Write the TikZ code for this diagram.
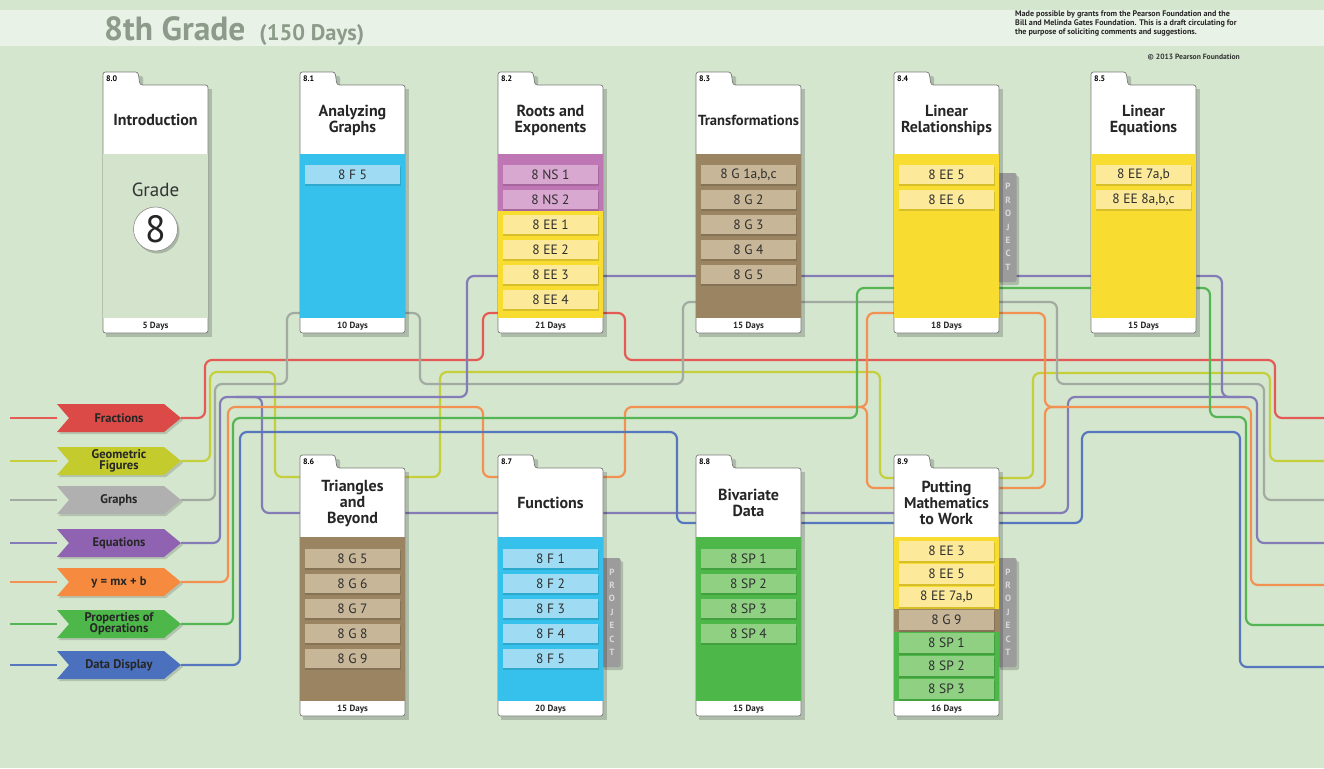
\documentclass[tikz,border=0pt]{standalone}
\usepackage{fontspec}
\setmainfont{PT Sans}
\definecolor{bg}{HTML}{D4E6CE}
\definecolor{band}{HTML}{E9F2E6}
\definecolor{titlegray}{HTML}{8C9B8A}
\definecolor{edge}{HTML}{7A7A7A}
\definecolor{introbody}{HTML}{D3E3CC}
\definecolor{bluebody}{HTML}{36C1EC}
\definecolor{bluebar}{HTML}{9FDCF4}
\definecolor{purpbody}{HTML}{BE77B4}
\definecolor{purpbar}{HTML}{D9A8D1}
\definecolor{yelbody}{HTML}{F8DC30}
\definecolor{yelbar}{HTML}{FCEA9A}
\definecolor{brnbody}{HTML}{9B8462}
\definecolor{brnbar}{HTML}{C7B698}
\definecolor{grnbody}{HTML}{4DB849}
\definecolor{grnbar}{HTML}{8FD083}
\definecolor{projgray}{HTML}{9C9C9C}
\definecolor{projtext}{HTML}{DADADA}
\definecolor{itemtext}{HTML}{2E2E2E}
\definecolor{aRed}{HTML}{DB4A46}
\definecolor{aYg}{HTML}{C4CB2D}
\definecolor{aGray}{HTML}{B0B0B0}
\definecolor{aPurp}{HTML}{9063B2}
\definecolor{aOr}{HTML}{F68B3F}
\definecolor{aGrn}{HTML}{4DB74A}
\definecolor{aBlue}{HTML}{4B71BE}
\definecolor{lRed}{HTML}{E45A55}
\definecolor{lYg}{HTML}{C5CF3C}
\definecolor{lGray}{HTML}{A2AAA2}
\definecolor{lPurp}{HTML}{837CB6}
\definecolor{lOr}{HTML}{F29152}
\definecolor{lGrn}{HTML}{55B453}
\definecolor{lBlue}{HTML}{5676BD}
\newcommand\numfont{\fontsize{8}{8}\selectfont\bfseries}
\newcommand\titlefont{\fontsize{16}{16}\selectfont\bfseries}
\newcommand\dayfont{\fontsize{9}{10}\selectfont\bfseries}
\newcommand\itemfont{\fontsize{13.5}{13.5}\selectfont}
\newcommand\signfont{\fontsize{12.5}{11.5}\selectfont\bfseries}
\tikzset{
  ln/.style={line width=2.2pt, rounded corners=7pt},
}
% card: id, x, T, number, title, days, body colour
\newcommand\mcard[7]{%
  \fill[black,opacity=.18] (#2+3,#3+17) rectangle (#2+109,#3+265);
  \fill[black,opacity=.18,rounded corners=2pt] (#2+3,#3+4) rectangle (#2+40,#3+20);
  \filldraw[fill=white,draw=edge,line width=.7pt,rounded corners=2.5pt]
    (#2,#3+14) -- (#2,#3) -- (#2+35,#3) -- (#2+37,#3+13) -- (#2+105,#3+13)
    -- (#2+105,#3+261) -- (#2,#3+261) -- cycle;
  \fill[#7] (#2+.4,#3+82) rectangle (#2+104.6,#3+246);
  \node[font=\numfont,anchor=west,inner sep=0] (#1n) at (#2+3,#3+7) {#4};
  \node[font=\titlefont,align=center,text=black!85] (#1) at (#2+52.5,#3+48) {#5};
  \node[font=\dayfont,text=black!85] (#1d) at (#2+52.5,#3+254) {#6};
}
% item bar: name, card x, y top, label, fill, height
\newcommand\itm[6]{%
  \fill[black,opacity=.13] (#2+5,#3+1.5) rectangle (#2+101,#3+#6+1.5);
  \fill[#5] (#2+5,#3) rectangle (#2+100,#3+#6);
  \node[font=\itemfont,text=itemtext,inner sep=0] (#1) at (#2+52.5,#3+#6/2) {#4};
}
% project tab: name, x (card right), y top
\newcommand\proj[3]{%
  \fill[black,opacity=.18,rounded corners=2pt] (#2+1,#3+3) rectangle (#2+20,#3+112);
  \fill[projgray,rounded corners=2pt] (#2-4,#3) rectangle (#2+17.5,#3+109);
  \node[font=\fontsize{9}{13.4}\selectfont\bfseries,text=projtext,align=center,inner sep=0]
    (#1) at (#2+9,#3+54) {P\\R\\O\\J\\E\\C\\T};
}
% signpost: name, y, colour, text
\newcommand\sign[4]{%
  \fill[black,opacity=.15] (59,#2-12) -- (166,#2-12) -- (183,#2+2) -- (166,#2+16) -- (59,#2+16) -- (71,#2+2) -- cycle;
  \fill[#3] (57,#2-14) -- (164,#2-14) -- (181,#2) -- (164,#2+14) -- (57,#2+14) -- (69,#2) -- cycle;
  \node[font=\signfont,align=center,minimum width=124,inner sep=0,text=black!85] (#1) at (119,#2) {#4};
}
\begin{document}
\begin{tikzpicture}[x=1pt,y=-1pt]
\useasboundingbox (0,0) rectangle (1324,768);
\fill[bg] (0,0) rectangle (1324,768);
\fill[band] (0,10) rectangle (1324,46);

% title and notes
\node[anchor=base west,inner sep=0,text=titlegray] (title) at (104,41)
  {{\fontsize{33.5}{33}\selectfont\bfseries 8th Grade}\hspace{14pt}{\fontsize{22.5}{22}\selectfont\bfseries (150 Days)}};
\node[anchor=north west,inner sep=0,align=left,font=\fontsize{8.1}{9}\selectfont\bfseries,text=black!85] (note) at (1015,11)
  {Made possible by grants from the Pearson Foundation and the\\Bill and Melinda Gates Foundation. This is a draft circulating for\\the purpose of soliciting comments and suggestions.};
\node[anchor=east,inner sep=0,font=\fontsize{7.6}{8}\selectfont\bfseries,text=black!80] (copy) at (1240,57) {\textcopyright\ 2013 Pearson Foundation};

% end points of the connectors
\foreach \n/\y in {fr/418,ge/461,gr/500,eq/543,mx/582,po/624,dd/665}{
  \coordinate (\n In) at (10,\y);
}
\coordinate (frOut) at (1324,418);
\coordinate (geOut) at (1324,461);
\coordinate (grOut) at (1324,500);
\coordinate (eqOut) at (1324,543);
\coordinate (mxOut) at (1324,585);
\coordinate (poOut) at (1324,625);
\coordinate (ddOut) at (1324,667);

\draw[ln,lRed] (frIn) -- (57,418);
\draw[ln,lYg] (geIn) -- (57,461);
\draw[ln,lGray] (grIn) -- (57,500);
\draw[ln,lPurp] (eqIn) -- (57,543);
\draw[ln,lOr] (mxIn) -- (57,582);
\draw[ln,lGrn] (poIn) -- (57,624);
\draw[ln,lBlue] (ddIn) -- (57,665);

\sign{fr}{418}{aRed}{Fractions}
\sign{ge}{461}{aYg}{Geometric\\Figures}
\sign{gr}{500}{aGray}{Graphs}
\sign{eq}{543}{aPurp}{Equations}
\sign{mx}{582}{aOr}{y = mx + b}
\sign{po}{624}{aGrn}{Properties of\\Operations}
\sign{dd}{665}{aBlue}{Data Display}

% connectors
\draw[ln,lRed] (fr.east) -- (205,418) -- (205,360) -- (483,360) -- (483,313) -- (625,313) -- (625,360) -- (1275,360) -- (1275,418) -- (frOut);
\draw[ln,lYg] (ge.east) -- (210,461) -- (210,372) -- (275,372) -- (275,477) -- (440,477) -- (440,372) -- (880,372) -- (880,478) -- (1033,478) -- (1033,373) -- (1270,373) -- (1270,461) -- (geOut);
\draw[ln,lGray] (gr.east) -- (215,500) -- (215,384) -- (287,384) -- (287,313) -- (420,313) -- (420,384) -- (683,384) -- (683,302) -- (1057,302) -- (1057,384) -- (1264,384) -- (1264,500) -- (grOut);
\draw[ln,lPurp] (eq.east) -- (220,543) -- (220,397) -- (467,397) -- (467,276) -- (1222,276) -- (1222,397) -- (1257,397) -- (1257,543) -- (eqOut);
\draw[ln,lPurp] (236,397) -- (262,397) -- (262,513) -- (1068,513) -- (1068,397) -- (1240,397);
\draw[ln,lOr] (mx.east) -- (228,582) -- (228,407) -- (483,407) -- (483,477) -- (625,477) -- (625,407) -- (867,407) -- (867,313) -- (1045,313) -- (1045,407) -- (1251,407) -- (1251,585) -- (mxOut);
\draw[ln,lOr] (848,407) -- (867,407) -- (867,488) -- (1045,488) -- (1045,407) -- (1064,407);
\draw[ln,lGrn] (po.east) -- (233,624) -- (233,418) -- (857,418) -- (857,288) -- (1210,288) -- (1210,417) -- (1246,417) -- (1246,625) -- (poOut);
\draw[ln,lBlue] (dd.east) -- (240,665) -- (240,432) -- (677,432) -- (677,523) -- (1082,523) -- (1082,432) -- (1240,432) -- (1240,667) -- (ddOut);

% project tabs
\proj{p84}{999}{173}
\proj{p87}{603}{558}
\proj{p89}{999}{558}

% top row cards
\mcard{c80}{103}{72}{8.0}{Introduction}{5 Days}{introbody}
\mcard{c81}{300}{72}{8.1}{Analyzing\\Graphs}{10 Days}{bluebody}
\mcard{c82}{498}{72}{8.2}{Roots and\\Exponents}{21 Days}{yelbody}
\mcard{c83}{696}{72}{8.3}{{\fontsize{14.6}{15}\selectfont Transformations}}{15 Days}{brnbody}
\mcard{c84}{894}{72}{8.4}{Linear\\{\fontsize{15.8}{16}\selectfont Relationships}}{18 Days}{yelbody}
\mcard{c85}{1091}{72}{8.5}{Linear\\Equations}{15 Days}{yelbody}
% bottom row cards
\mcard{c86}{300}{455}{8.6}{Triangles\\and\\Beyond}{15 Days}{brnbody}
\mcard{c87}{498}{455}{8.7}{Functions}{20 Days}{bluebody}
\mcard{c88}{696}{455}{8.8}{Bivariate\\Data}{15 Days}{grnbody}
\mcard{c89}{894}{455}{8.9}{Putting\\{\fontsize{15.5}{16}\selectfont Mathematics}\\to Work}{16 Days}{yelbody}

% intro
\node[font=\fontsize{19}{19}\selectfont,text=black!80] (grade) at (155.5,190) {Grade};
\fill[black,opacity=.2] (157.5,231.5) circle (22);
\node[circle,fill=white,draw=black!45,line width=.6pt,minimum size=44,inner sep=0,
  font=\fontsize{38}{38}\selectfont,text=black!85] (g8) at (155.5,229) {8};

% 8.1
\itm{i81a}{300}{165}{8 F 5}{bluebar}{19}
% 8.2
\fill[purpbody] (498.4,154) rectangle (602.6,211);
\itm{i82a}{498}{165}{8 NS 1}{purpbar}{19}
\itm{i82b}{498}{190}{8 NS 2}{purpbar}{19}
\itm{i82c}{498}{215}{8 EE 1}{yelbar}{19}
\itm{i82d}{498}{240}{8 EE 2}{yelbar}{19}
\itm{i82e}{498}{265}{8 EE 3}{yelbar}{19}
\itm{i82f}{498}{290}{8 EE 4}{yelbar}{19}
% 8.3
\itm{i83a}{696}{165}{8 G 1a,b,c}{brnbar}{19}
\itm{i83b}{696}{190}{8 G 2}{brnbar}{19}
\itm{i83c}{696}{215}{8 G 3}{brnbar}{19}
\itm{i83d}{696}{240}{8 G 4}{brnbar}{19}
\itm{i83e}{696}{265}{8 G 5}{brnbar}{19}
% 8.4
\itm{i84a}{894}{165}{8 EE 5}{yelbar}{19}
\itm{i84b}{894}{190}{8 EE 6}{yelbar}{19}
% 8.5
\itm{i85a}{1091}{165}{8 EE 7a,b}{yelbar}{19}
\itm{i85b}{1091}{190}{8 EE 8a,b,c}{yelbar}{19}
% 8.6
\itm{i86a}{300}{549}{8 G 5}{brnbar}{19}
\itm{i86b}{300}{574}{8 G 6}{brnbar}{19}
\itm{i86c}{300}{599}{8 G 7}{brnbar}{19}
\itm{i86d}{300}{624}{8 G 8}{brnbar}{19}
\itm{i86e}{300}{649}{8 G 9}{brnbar}{19}
% 8.7
\itm{i87a}{498}{549}{8 F 1}{bluebar}{19}
\itm{i87b}{498}{574}{8 F 2}{bluebar}{19}
\itm{i87c}{498}{599}{8 F 3}{bluebar}{19}
\itm{i87d}{498}{624}{8 F 4}{bluebar}{19}
\itm{i87e}{498}{649}{8 F 5}{bluebar}{19}
% 8.8
\itm{i88a}{696}{549}{8 SP 1}{grnbar}{19}
\itm{i88b}{696}{574}{8 SP 2}{grnbar}{19}
\itm{i88c}{696}{599}{8 SP 3}{grnbar}{19}
\itm{i88d}{696}{624}{8 SP 4}{grnbar}{19}
% 8.9
\fill[brnbody] (894.4,609) rectangle (998.6,632);
\fill[grnbody] (894.4,632) rectangle (998.6,701);
\itm{i89a}{894}{541}{8 EE 3}{yelbar}{20}
\itm{i89b}{894}{564}{8 EE 5}{yelbar}{20}
\itm{i89c}{894}{587}{8 EE 7a,b}{yelbar}{20}
\itm{i89d}{894}{610}{8 G 9}{brnbar}{20}
\itm{i89e}{894}{633}{8 SP 1}{grnbar}{20}
\itm{i89f}{894}{656}{8 SP 2}{grnbar}{20}
\itm{i89g}{894}{679}{8 SP 3}{grnbar}{20}
\end{tikzpicture}
\end{document}
